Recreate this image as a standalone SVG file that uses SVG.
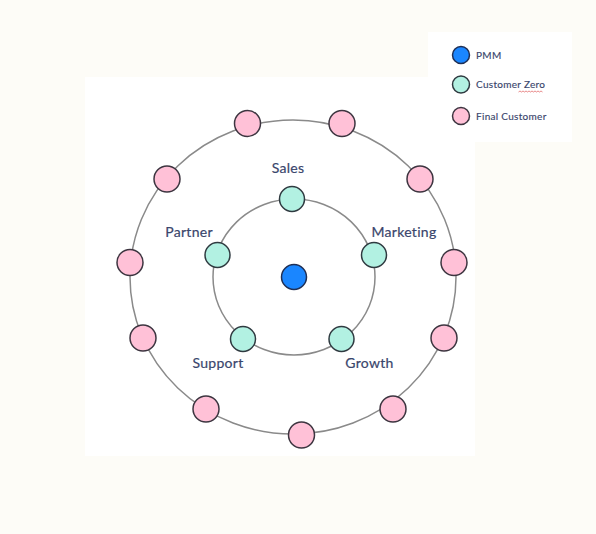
<svg xmlns="http://www.w3.org/2000/svg" width="596" height="534" viewBox="0 0 596 534">
<style>
.ring{fill:none;stroke:#8a8a8a;stroke-width:1.5}
.pmm{fill:#1a86ff;stroke:#1f2f55;stroke-width:1.5}
.cz{fill:#b2f1e2;stroke:#2f3a40;stroke-width:1.5}
.fc{fill:#ffc1d7;stroke:#3d3540;stroke-width:1.5}
.lbl{font-family:Lato,"Open Sans",sans-serif;font-size:14px;fill:#3a466c;stroke:#3a466c;stroke-width:0.2;letter-spacing:0.3px}
.leg{font-family:Lato,"Open Sans",sans-serif;font-size:10px;fill:#3a466c;stroke:#3a466c;stroke-width:0.15;letter-spacing:0.3px}
</style>
<rect width="596" height="534" fill="#fdfcf7"/>
<rect x="85" y="77" width="390" height="379" fill="#ffffff"/>
<rect x="428" y="32" width="144" height="110" fill="#ffffff"/>
<g id="connectors">
<ellipse class="ring" cx="293" cy="277" rx="163" ry="157"/>
<ellipse class="ring" cx="294" cy="277" rx="81" ry="78"/>
</g>
<g id="pmm"><circle class="pmm" cx="294" cy="277" r="12.5"/></g>
<g id="sales"><circle class="cz" cx="292" cy="199" r="12.5"/><text class="lbl" x="288" y="173" text-anchor="middle">Sales</text></g>
<g id="marketing"><circle class="cz" cx="374" cy="255" r="12.5"/><text class="lbl" x="404" y="237" text-anchor="middle">Marketing</text></g>
<g id="partner"><circle class="cz" cx="217.5" cy="255" r="12.5"/><text class="lbl" x="189" y="237" text-anchor="middle">Partner</text></g>
<g id="support"><circle class="cz" cx="243" cy="339" r="12.5"/><text class="lbl" x="218" y="368" text-anchor="middle">Support</text></g>
<g id="growth"><circle class="cz" cx="341.5" cy="339" r="12.5"/><text class="lbl" x="369.5" y="368" text-anchor="middle">Growth</text></g>
<g id="fc1"><circle class="fc" cx="247.5" cy="123.5" r="13"/></g>
<g id="fc2"><circle class="fc" cx="342" cy="123.5" r="13"/></g>
<g id="fc3"><circle class="fc" cx="167" cy="179" r="13"/></g>
<g id="fc4"><circle class="fc" cx="420" cy="179" r="13"/></g>
<g id="fc5"><circle class="fc" cx="130" cy="262.5" r="13"/></g>
<g id="fc6"><circle class="fc" cx="454" cy="262.5" r="13"/></g>
<g id="fc7"><circle class="fc" cx="143" cy="338" r="13"/></g>
<g id="fc8"><circle class="fc" cx="444" cy="338" r="13"/></g>
<g id="fc9"><circle class="fc" cx="206" cy="409" r="13"/></g>
<g id="fc10"><circle class="fc" cx="393" cy="409" r="13"/></g>
<g id="fc11"><circle class="fc" cx="301.5" cy="435" r="13"/></g>
<g id="legend">
<circle class="pmm" cx="461" cy="55" r="8.5"/>
<text class="leg" x="476" y="58.5">PMM</text>
<circle class="cz" cx="461" cy="84.5" r="8.5"/>
<text class="leg" x="476" y="88">Customer Zero</text>
<path d="M518.5 92 l1.5 -1 1.5 1 1.5 -1 1.5 1 1.5 -1 1.5 1 1.5 -1 1.5 1 1.5 -1 1.5 1 1.5 -1 1.5 1 1.5 -1 1.5 1 1.5 -1 1.5 1" fill="none" stroke="#e05a5a" stroke-width="0.7"/>
<circle class="fc" cx="461" cy="116" r="8.5"/>
<text class="leg" x="476" y="119.5">Final Customer</text>
</g>
</svg>
